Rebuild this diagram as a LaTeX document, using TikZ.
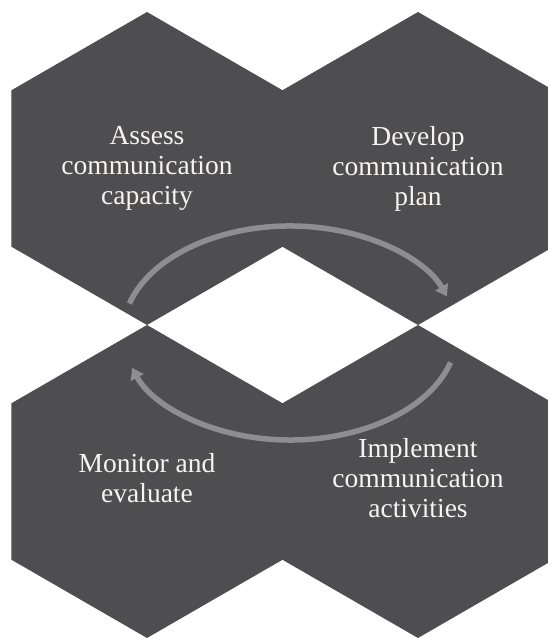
\documentclass[tikz,border=0pt]{standalone}
\usepackage{fontspec}
\setmainfont{Liberation Serif}
\usetikzlibrary{arrows.meta}
\definecolor{hexgray}{RGB}{78,78,81}
\definecolor{loopgray}{RGB}{142,142,145}
\definecolor{labelwhite}{RGB}{246,244,238}
\begin{document}
\begin{tikzpicture}[x=1pt,y=1pt,
  hexcell/.style={fill=hexgray, nonzero rule},
  steplabel/.style={text=labelwhite, align=center,
    font=\fontsize{27.5}{30}\selectfont, inner sep=0pt},
  cyclearrow/.style={draw=loopgray, line width=5.5pt,
    -{Triangle[length=11pt,width=14pt]}}]
\useasboundingbox (0,0) rectangle (548,638);
\clip (0,0) rectangle (548,638);

% centres of the four cells
\coordinate (tl) at (147,469.5);
\coordinate (tr) at (418,469.5);
\coordinate (bl) at (147,156.5);
\coordinate (br) at (418,156.5);

% four pointy-top hexagons filled as one path, so shared edges leave no seam
\fill[hexcell] \foreach \c in {tl,tr,bl,br}{
  (\c) ++(90:156.5) -- ++(-30:156.5) -- ++(-90:156.5)
    -- ++(-150:156.5) -- ++(150:156.5) -- ++(90:156.5) -- cycle
};

% step labels
\node[steplabel] (assess)    at (tl) {Assess\\communication\\capacity};
\node[steplabel] (develop)   at (tr) {Develop\\communication\\plan};
\node[steplabel] (monitor)   at ([yshift=3pt]bl) {Monitor and\\evaluate};
\node[steplabel] (implement) at ([yshift=3pt]br) {Implement\\communication\\activities};

% clockwise cycle arrows around the centre diamond
\coordinate (loop) at (290,305);
\draw[cyclearrow] (loop) ++(164:167 and 107)
  arc[start angle=164, end angle=20, x radius=167, y radius=107];
\draw[cyclearrow] (loop) ++(-16:167 and 107)
  arc[start angle=-16, end angle=-161, x radius=167, y radius=107];
\end{tikzpicture}
\end{document}
